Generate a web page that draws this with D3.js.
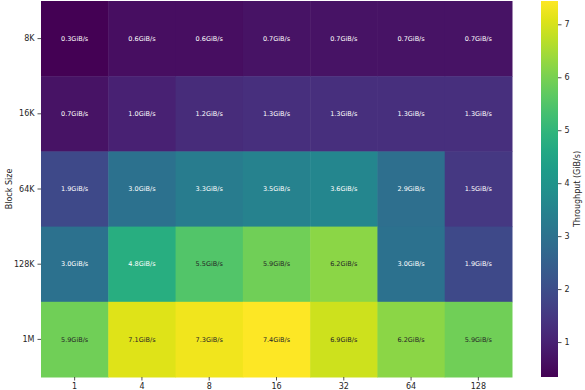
<!DOCTYPE html>
<html>
<head>
<meta charset="utf-8">
<script src="https://cdn.jsdelivr.net/npm/d3@7"></script>
<style>
body { margin: 0; background: #fff; }
text { font-family: "DejaVu Sans", sans-serif; }
</style>
</head>
<body>
<svg width="585" height="390"></svg>
<script>
// chart data
var blockSizes = ["8K", "16K", "64K", "128K", "1M"];
var queueDepths = ["1", "4", "8", "16", "32", "64", "128"];
var row8K   = [0.34, 0.6, 0.6, 0.7, 0.7, 0.7, 0.7];
var row16K  = [0.7, 1.0, 1.2, 1.3, 1.3, 1.3, 1.3];
var row64K  = [1.9, 3.0, 3.3, 3.5, 3.6, 2.9, 1.5];
var row128K = [3.0, 4.8, 5.5, 5.9, 6.2, 3.0, 1.9];
var row1M   = [5.9, 7.1, 7.3, 7.44, 6.9, 6.2, 5.9];
var colorTicks = [1, 2, 3, 4, 5, 6, 7];

var rows = [row8K, row16K, row64K, row128K, row1M];
var cells = [];
rows.forEach(function(r, i) {
  r.forEach(function(v, j) {
    cells.push({ bs: blockSizes[i], qd: queueDepths[j], v: v });
  });
});

var svg = d3.select("svg");
// plot area edges (window.top is reserved, so use other names)
var plotL = 41, plotR = 512, plotT = 1, plotB = 377;

var xScale = d3.scaleBand().domain(queueDepths).range([plotL, plotR]);
var yScale = d3.scaleBand().domain(blockSizes).range([plotT, plotB]);
var vmin = d3.min(cells, function(d) { return d.v; });
var vmax = d3.max(cells, function(d) { return d.v; });
var color = d3.scaleSequential(d3.interpolateViridis).domain([vmin, vmax]);

// cells
svg.selectAll(".cell")
  .data(cells)
  .enter().append("rect")
  .attr("class", "cell")
  .attr("x", function(d) { return xScale(d.qd); })
  .attr("y", function(d) { return yScale(d.bs); })
  .attr("width", xScale.bandwidth() + 0.5)
  .attr("height", yScale.bandwidth() + 0.5)
  .attr("fill", function(d) { return color(d.v); });

// annotations, dark text on light cells
function textColor(v) {
  var c = d3.rgb(color(v));
  var lum = [c.r, c.g, c.b].map(function(x) {
    x = x / 255;
    return x <= 0.03928 ? x / 12.92 : Math.pow((x + 0.055) / 1.055, 2.4);
  });
  var l = 0.2126 * lum[0] + 0.7152 * lum[1] + 0.0722 * lum[2];
  return l > 0.408 ? "#262626" : "#ffffff";
}

svg.selectAll(".annot")
  .data(cells)
  .enter().append("text")
  .attr("class", "annot")
  .attr("x", function(d) { return xScale(d.qd) + xScale.bandwidth() / 2; })
  .attr("y", function(d) { return yScale(d.bs) + yScale.bandwidth() / 2; })
  .attr("dy", "0.35em")
  .attr("text-anchor", "middle")
  .attr("font-size", "6.5px")
  .attr("fill", function(d) { return textColor(d.v); })
  .text(function(d) { return d.v.toFixed(1) + "GiB/s"; });

// axes
var xAxis = svg.append("g")
  .attr("transform", "translate(0," + plotB + ")")
  .call(d3.axisBottom(xScale).tickSize(3.5).tickPadding(3));
var yAxis = svg.append("g")
  .attr("transform", "translate(" + plotL + ",0)")
  .call(d3.axisLeft(yScale).tickSize(3.5).tickPadding(3));
[xAxis, yAxis].forEach(function(a) {
  a.select(".domain").remove();
  a.selectAll("line").attr("stroke", "#262626").attr("stroke-width", 0.8);
  a.selectAll("text").attr("font-size", "8px").attr("fill", "#262626")
    .attr("font-family", "DejaVu Sans, sans-serif");
});

svg.append("text")
  .attr("transform", "translate(9," + ((plotT + plotB) / 2) + ") rotate(-90)")
  .attr("text-anchor", "middle")
  .attr("dy", "0.35em")
  .attr("font-size", "8px")
  .attr("fill", "#262626")
  .text("Block Size");

// colorbar
var cbX = 541, cbW = 17;
var cbScale = d3.scaleLinear().domain([vmin, vmax]).range([plotB, plotT]);
var defs = svg.append("defs");
var grad = defs.append("linearGradient")
  .attr("id", "cbgrad")
  .attr("x1", 0).attr("y1", 1).attr("x2", 0).attr("y2", 0);
d3.range(0, 1.0001, 0.05).forEach(function(t) {
  grad.append("stop")
    .attr("offset", t)
    .attr("stop-color", d3.interpolateViridis(t));
});
svg.append("rect")
  .attr("x", cbX)
  .attr("y", plotT)
  .attr("width", cbW)
  .attr("height", plotB - plotT)
  .attr("fill", "url(#cbgrad)");

var cbAxis = svg.append("g")
  .attr("transform", "translate(" + (cbX + cbW) + ",0)")
  .call(d3.axisRight(cbScale).tickValues(colorTicks).tickSize(3.5).tickPadding(3));
cbAxis.select(".domain").remove();
cbAxis.selectAll("line").attr("stroke", "#262626").attr("stroke-width", 0.8);
cbAxis.selectAll("text").attr("font-size", "8px").attr("fill", "#262626")
  .attr("font-family", "DejaVu Sans, sans-serif");

svg.append("text")
  .attr("transform", "translate(577," + ((plotT + plotB) / 2) + ") rotate(-90)")
  .attr("text-anchor", "middle")
  .attr("dy", "0.35em")
  .attr("font-size", "8px")
  .attr("fill", "#262626")
  .text("Throughput (GiB/s)");
</script>
</body>
</html>
